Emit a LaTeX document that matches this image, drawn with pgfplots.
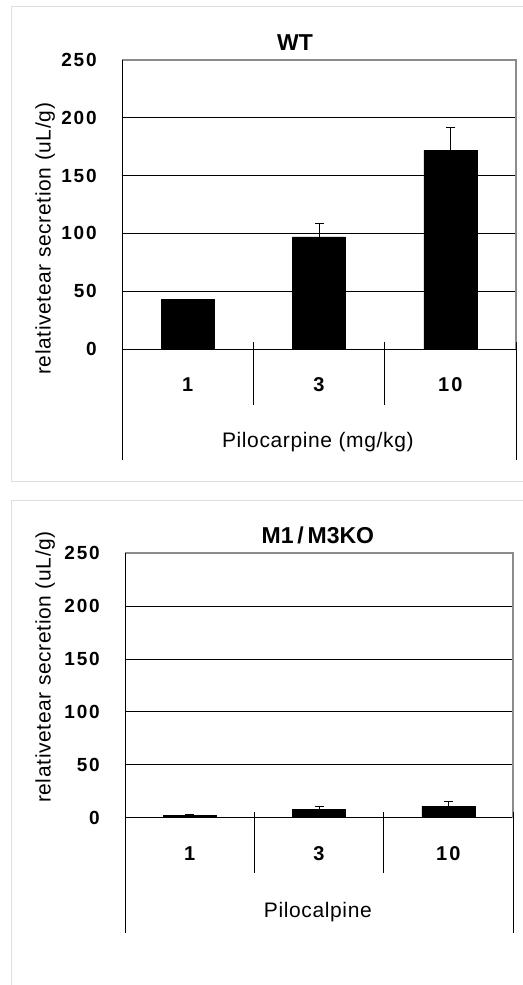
\documentclass[border=0pt]{standalone}
\usepackage{pgfplots}
\pgfplotsset{compat=1.18}
\usepackage{fontspec}
\setmainfont{Liberation Sans}
\newfontfamily\spacedfont[LetterSpace=10]{Liberation Sans}
\newfontfamily\labelfont[LetterSpace=3]{Liberation Sans}
\definecolor{frame}{HTML}{8C8C8C}

\pgfplotsset{
  tearaxis/.style={
    scale only axis,
    ybar, bar width=53bp,
    ymin=0, ymax=250, xmin=0.5, xmax=3.5,
    ytick={0,50,...,250},
    xtick={1,2,3}, xticklabels={1,3,10},
    major tick length=0,
    axis line style={draw=none},
    ymajorgrids, grid style={black, line width=0.9bp},
    /pgf/number format/assume math mode=true,
    yticklabel={\pgfmathprintnumber{\tick}\rule{25bp}{0pt}},
    yticklabel style={font=\spacedfont\bfseries\fontsize{19bp}{22bp}\selectfont, anchor=east, inner sep=0pt},
    xticklabel style={font=\spacedfont\bfseries\fontsize{20bp}{22bp}\selectfont, anchor=center, inner sep=0pt, yshift=-36bp},
    title style={font=\bfseries\fontsize{23bp}{25bp}\selectfont, anchor=center, inner sep=0pt, yshift=0pt},
    xlabel style={font=\labelfont\fontsize{21bp}{23bp}\selectfont, anchor=center, inner sep=0pt},
    ylabel style={font=\labelfont\fontsize{21bp}{23bp}\selectfont, anchor=center, inner sep=0pt},
    clip=false,
  },
  tearbars/.style={fill=black, draw=black,
    error bars/.cd, y dir=plus, y explicit,
    error bar style={black, line width=0.9bp},
    error mark options={mark size=4.5bp, line width=0.9bp, black, rotate=90}},
}

\begin{document}
\begin{tikzpicture}
% panel frames
\draw[gray!25, line width=1bp] (523bp,978bp) -- (11bp,978bp) -- (11bp,503bp) -- (523bp,503bp);
\draw[gray!25, line width=1bp] (523bp,484bp) -- (11bp,484bp) -- (11bp,0bp);

% ---------------- WT ----------------
\begin{axis}[tearaxis, at={(122bp,636bp)}, anchor=south west, width=394bp, height=289bp,
  title={WT}, title style={at={(axis description cs:0.439,1.038)}},
  xlabel={Pilocarpine (mg/kg)}, xlabel style={at={(axis description cs:0.497,-0.322)}},
  ylabel={relativetear secretion (uL/g)}, ylabel style={at={(axis description cs:-0.195,0.381)}},
]
\draw[frame, line width=1.6bp] (axis cs:0.5,250) -- (axis cs:3.5,250) -- (axis cs:3.5,0);
\addplot+[tearbars] coordinates {(1,43) +- (0,0) (2,97) +- (0,12) (3,172) +- (0,20)};
\draw[black, line width=0.9bp] (axis cs:0.5,250) -- (axis cs:0.5,-96);
\draw[black, line width=0.9bp] (axis cs:3.5,6) -- (axis cs:3.5,-96);
\draw[black, line width=0.9bp] (axis cs:1.5,6) -- (axis cs:1.5,-48.4);
\draw[black, line width=0.9bp] (axis cs:2.5,6) -- (axis cs:2.5,-48.4);
\end{axis}

% ---------------- M1/M3KO ----------------
\begin{axis}[tearaxis, at={(125bp,167.3bp)}, anchor=south west, width=388bp, height=264.4bp,
  title={M1\,/\,M3KO}, title style={at={(axis description cs:0.497,1.044)}},
  xlabel={Pilocalpine}, xlabel style={at={(axis description cs:0.497,-0.357)}},
  ylabel={relativetear secretion (uL/g)}, ylabel style={at={(axis description cs:-0.206,0.570)}},
]
\draw[frame, line width=1.6bp] (axis cs:0.5,250) -- (axis cs:3.5,250) -- (axis cs:3.5,0);
\addplot+[tearbars] coordinates {(1,2) +- (0,1.5) (2,8) +- (0,3) (3,11) +- (0,4.5)};
\draw[black, line width=0.9bp] (axis cs:0.5,250) -- (axis cs:0.5,-109);
\draw[black, line width=0.9bp] (axis cs:3.5,5.4) -- (axis cs:3.5,-109);
\draw[black, line width=0.9bp] (axis cs:1.5,5.4) -- (axis cs:1.5,-52.3);
\draw[black, line width=0.9bp] (axis cs:2.5,5.4) -- (axis cs:2.5,-52.3);
\end{axis}
\pgfresetboundingbox
\useasboundingbox (0bp,0bp) rectangle (523bp,985bp);
\end{tikzpicture}
\end{document}
